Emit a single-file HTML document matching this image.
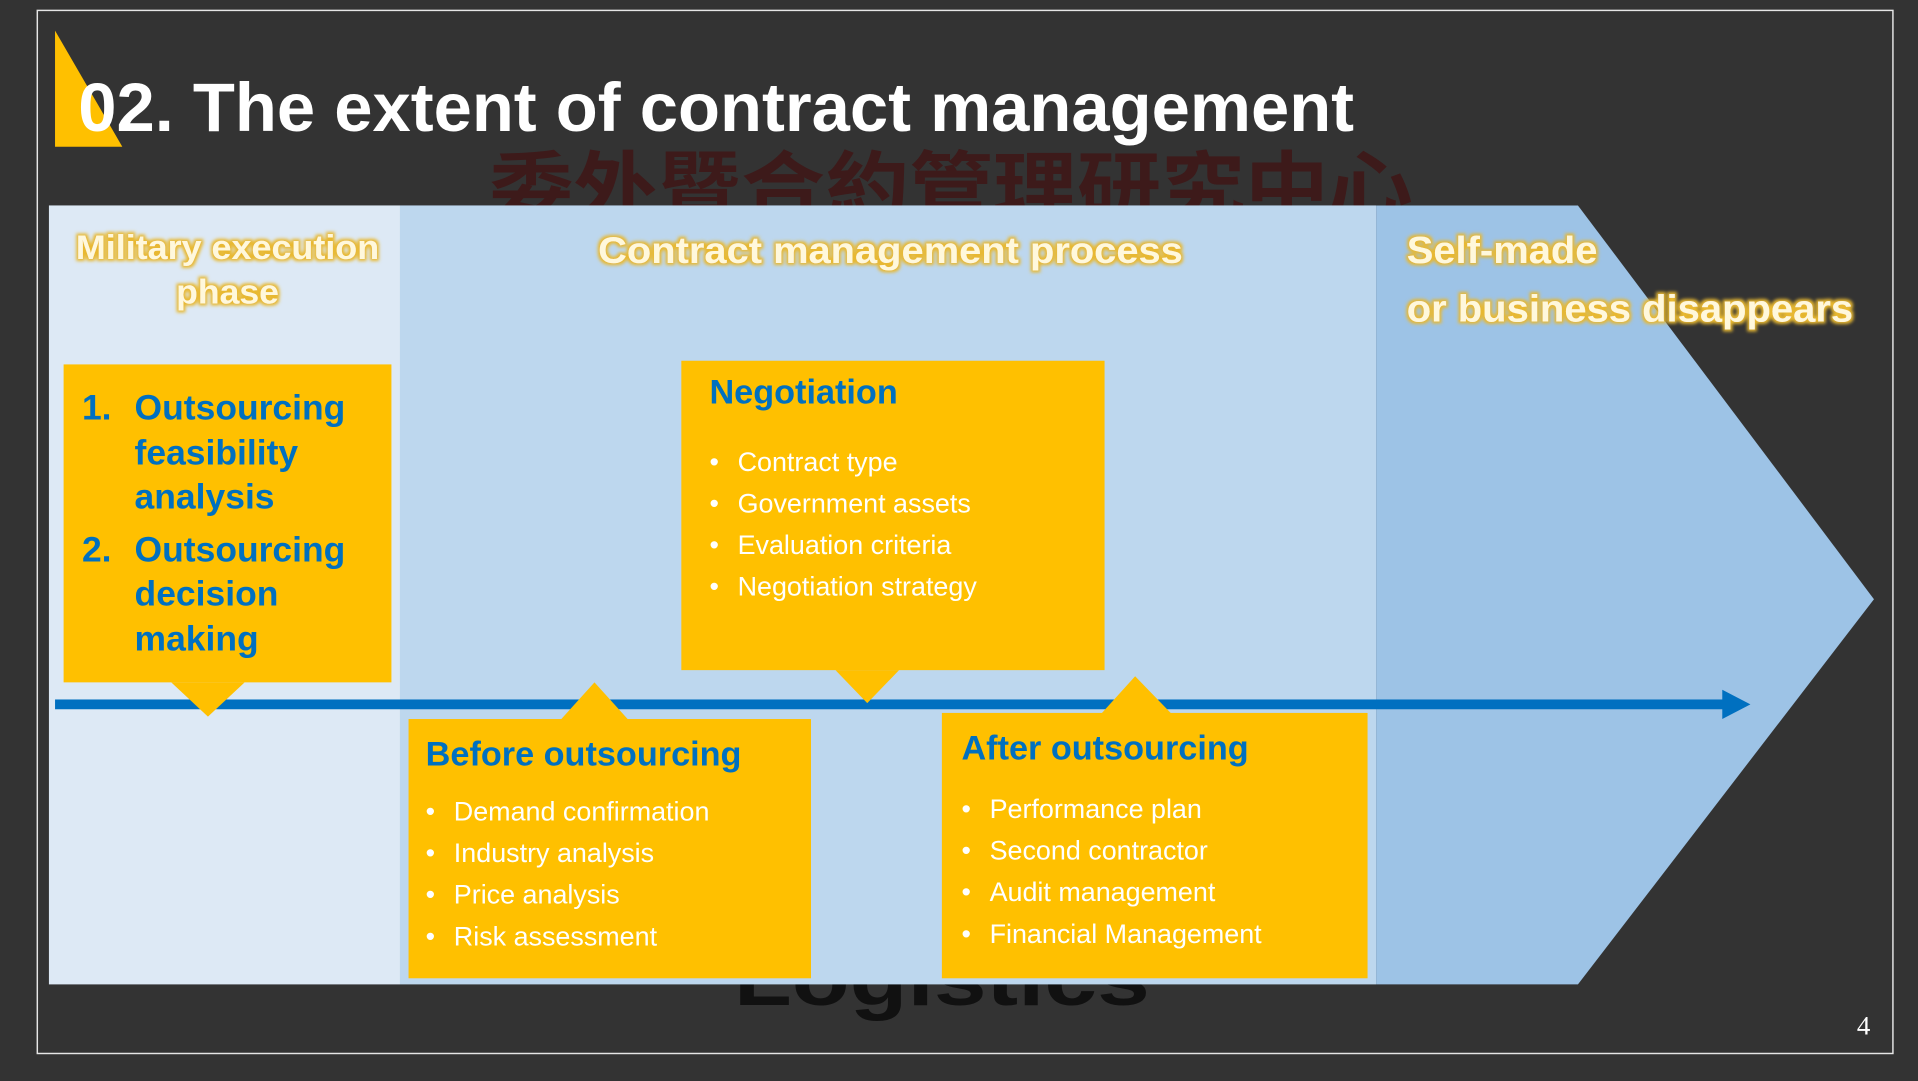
<!DOCTYPE html>
<html><head><meta charset="utf-8"><style>
html,body{margin:0;padding:0;background:#333;overflow:hidden}
svg{display:block}
</style></head><body>
<svg width="1918" height="1081" viewBox="0 0 1568 884" preserveAspectRatio="none" xmlns="http://www.w3.org/2000/svg">
<defs>
<filter id="glow" x="-10%" y="-30%" width="120%" height="160%">
<feMorphology in="SourceAlpha" operator="dilate" radius="1.6" result="d"/>
<feGaussianBlur in="d" stdDeviation="1.2" result="b"/>
<feFlood flood-color="#e8b830"/>
<feComposite in2="b" operator="in" result="g"/>
<feMerge><feMergeNode in="g"/><feMergeNode in="SourceGraphic"/></feMerge>
</filter>
</defs>
<rect width="1568" height="884" fill="#333"/>
<rect x="30.5" y="8.5" width="1517" height="853" fill="none" stroke="#e6e6e6" stroke-width="1.2"/>
<!-- watermark -->
<text x="400" y="175" font-family="'Noto Sans CJK TC',sans-serif" font-weight="bold" font-size="62" fill="#3d1a1a" textLength="755" lengthAdjust="spacingAndGlyphs">委外暨合約管理研究中心</text>
<text x="600" y="822" font-family="'Liberation Sans',sans-serif" font-weight="bold" font-size="62" fill="#111" textLength="340" lengthAdjust="spacingAndGlyphs">Logistics</text>
<!-- title -->
<polygon points="45,25 45,120 100,120" fill="#ffc000"/>
<text x="64" y="107" font-family="'Liberation Sans',sans-serif" font-weight="bold" font-size="56" fill="#fff" textLength="1043" lengthAdjust="spacingAndGlyphs">02. The extent of contract management</text>
<!-- panel -->
<rect x="40" y="168" width="287" height="637" fill="#dde9f5"/>
<rect x="327" y="168" width="798" height="637" fill="#bdd7ee"/>
<polygon points="1125,168 1290,168 1532,490 1290,805 1125,805" fill="#9dc3e6"/>
<g font-family="'Liberation Sans',sans-serif" font-weight="bold" fill="#fff8dc" filter="url(#glow)">
<text x="186" y="212" font-size="28" text-anchor="middle" textLength="248" lengthAdjust="spacingAndGlyphs">Military execution</text>
<text x="186" y="248" font-size="28" text-anchor="middle" textLength="84" lengthAdjust="spacingAndGlyphs">phase</text>
<text x="728" y="215" font-size="30" text-anchor="middle" textLength="478" lengthAdjust="spacingAndGlyphs">Contract management process</text>
<text x="1150" y="215" font-size="31" textLength="156" lengthAdjust="spacingAndGlyphs">Self-made</text>
<text x="1150" y="263" font-size="31" textLength="365" lengthAdjust="spacingAndGlyphs">or business disappears</text>
</g>
<!-- timeline -->
<rect x="45" y="572" width="1368" height="8" fill="#0070c0"/>
<polygon points="1408,564 1431,576 1408,588" fill="#0070c0"/>
<!-- boxes -->
<g fill="#ffc000">
<rect x="52" y="298" width="268" height="260"/>
<polygon points="140,558 200,558 170,586"/>
<rect x="557" y="295" width="346" height="253"/>
<polygon points="683,548 735,548 709,575"/>
<rect x="334" y="588" width="329" height="212"/>
<polygon points="458,589 514,589 486,558"/>
<rect x="770" y="583" width="348" height="217"/>
<polygon points="900,584 958,584 928,553"/>
</g>
<g font-family="'Liberation Sans',sans-serif" font-weight="bold" fill="#0070c0" font-size="29">
<text x="67" y="343">1.</text><text x="110" y="343">Outsourcing</text>
<text x="110" y="380">feasibility</text>
<text x="110" y="416">analysis</text>
<text x="67" y="459">2.</text><text x="110" y="459">Outsourcing</text>
<text x="110" y="495">decision</text>
<text x="110" y="532">making</text>
<text x="580" y="330" font-size="28">Negotiation</text>
<text x="348" y="626" font-size="28">Before outsourcing</text>
<text x="786" y="621" font-size="28">After outsourcing</text>
</g>
<g font-family="'Liberation Sans',sans-serif" fill="#fff" font-size="22">
<text x="580" y="385">•</text><text x="603" y="385">Contract type</text>
<text x="580" y="419">•</text><text x="603" y="419">Government assets</text>
<text x="580" y="453">•</text><text x="603" y="453">Evaluation criteria</text>
<text x="580" y="487">•</text><text x="603" y="487">Negotiation strategy</text>
<text x="348" y="671">•</text><text x="371" y="671">Demand confirmation</text>
<text x="348" y="705">•</text><text x="371" y="705">Industry analysis</text>
<text x="348" y="739">•</text><text x="371" y="739">Price analysis</text>
<text x="348" y="773">•</text><text x="371" y="773">Risk assessment</text>
<text x="786" y="669">•</text><text x="809" y="669">Performance plan</text>
<text x="786" y="703">•</text><text x="809" y="703">Second contractor</text>
<text x="786" y="737">•</text><text x="809" y="737">Audit management</text>
<text x="786" y="771">•</text><text x="809" y="771">Financial Management</text>
</g>
<text x="1518" y="846" font-family="'Liberation Serif',serif" font-size="22" fill="#fff">4</text>
</svg>
</body></html>
